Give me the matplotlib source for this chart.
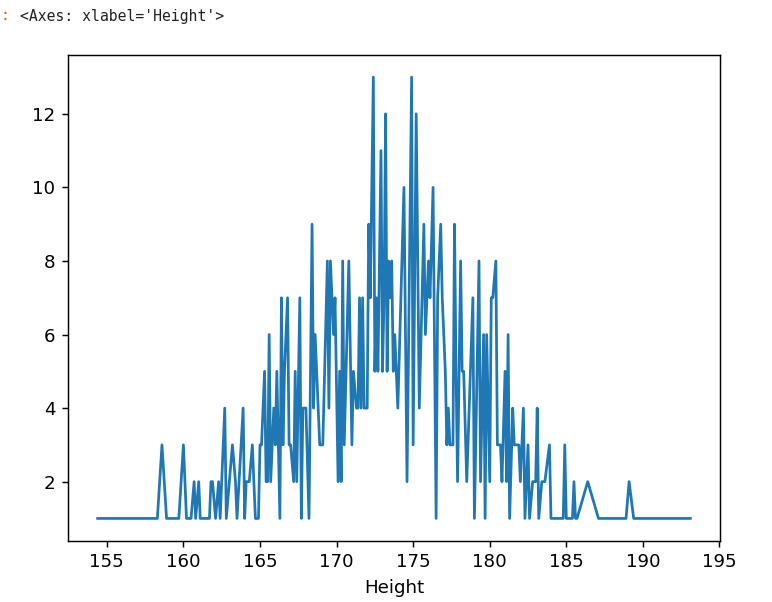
import matplotlib
matplotlib.use("Agg")
import matplotlib.pyplot as plt
import pandas as pd

heights = [154.4, 155.9, 157.3, 158.3, 158.6, 158.9, 159.7, 160.0, 160.2, 160.5,
           160.7, 160.8, 161.0, 161.1, 161.7, 161.8, 161.9, 162.1, 162.3, 162.4,
           162.7, 162.8, 163.2, 163.4, 163.5, 163.9, 164.0, 164.1, 164.3, 164.5,
           164.7, 164.9, 165.0, 165.1, 165.3, 165.4, 165.5, 165.6, 165.7, 165.9,
           166.0, 166.1, 166.3, 166.4, 166.5, 166.6, 166.8, 166.9, 167.0, 167.2,
           167.3, 167.4, 167.6, 167.7, 167.8, 168.0, 168.2, 168.4, 168.5, 168.6,
           168.7, 168.9, 169.1, 169.4, 169.5, 169.6, 169.7, 169.8, 169.9, 170.1,
           170.2, 170.3, 170.4, 170.5, 170.8, 171.0, 171.1, 171.3, 171.4, 171.5,
           171.6, 171.7, 171.8, 172.0, 172.1, 172.2, 172.4, 172.5, 172.6, 172.7,
           172.9, 173.0, 173.1, 173.2, 173.3, 173.4, 173.5, 173.6, 173.7, 173.8,
           174.0, 174.4, 174.6, 174.9, 175.0, 175.2, 175.4, 175.7, 175.8, 175.9,
           176.0, 176.1, 176.3, 176.5, 176.6, 176.7, 176.8, 176.9, 177.0, 177.1,
           177.2, 177.3, 177.4, 177.6, 177.7, 177.8, 177.9, 178.1, 178.2, 178.3,
           178.5, 178.9, 179.0, 179.3, 179.4, 179.6, 179.7, 179.8, 180.0, 180.1,
           180.2, 180.4, 180.5, 180.7, 180.8, 181.0, 181.1, 181.2, 181.3, 181.5,
           181.6, 181.9, 182.0, 182.2, 182.3, 182.5, 182.6, 182.8, 183.0, 183.1,
           183.2, 183.4, 183.6, 183.9, 184.0, 184.8, 184.9, 185.0, 185.4, 185.5,
           185.6, 185.7, 186.4, 187.1, 187.9, 188.9, 189.1, 189.4, 191.2, 193.1]
counts = [1, 1, 1, 1, 3, 1, 1, 3, 1, 1,
          2, 1, 2, 1, 1, 2, 2, 1, 2, 1,
          4, 1, 3, 2, 1, 4, 1, 2, 2, 3,
          1, 1, 3, 3, 5, 2, 2, 6, 2, 4,
          3, 5, 1, 7, 3, 5, 7, 3, 3, 2,
          5, 2, 7, 1, 4, 4, 1, 9, 4, 6,
          5, 3, 3, 8, 4, 8, 7, 6, 7, 2,
          5, 2, 8, 3, 8, 3, 5, 4, 4, 7,
          4, 7, 4, 4, 9, 7, 13, 5, 7, 5,
          11, 5, 7, 12, 5, 8, 7, 8, 5, 6,
          4, 10, 2, 13, 3, 12, 4, 9, 6, 7,
          8, 7, 10, 1, 7, 8, 9, 7, 6, 5,
          3, 4, 3, 3, 9, 5, 2, 8, 5, 5,
          2, 7, 1, 8, 2, 6, 1, 6, 2, 7,
          7, 8, 3, 3, 2, 5, 2, 6, 1, 4,
          3, 3, 2, 4, 1, 3, 1, 2, 2, 4,
          1, 2, 2, 3, 1, 1, 3, 1, 1, 2,
          1, 1, 2, 1, 1, 1, 2, 1, 1, 1]

s = pd.Series(counts, index=pd.Index(heights, name="Height"))

DPI = 131
fig = plt.figure(figsize=(772 / DPI, 602 / DPI), dpi=DPI)
ax = fig.add_axes([68 / 772, 1 - 540.5 / 602, (720 - 68) / 772, (540.5 - 55) / 602])
s.plot(ax=ax)
ax.set_xticks([155, 160, 165, 170, 175, 180, 185, 190, 195])

fig.text(20 / 772, 1 - 16 / 602, "<Axes: xlabel='Height'>", family="DejaVu Sans Mono",
         fontsize=8.1, va="center", ha="left", color="#222222")
fig.text(0, 1 - 16 / 602, ":", fontsize=8.1, va="center", ha="left", color="#e0561b",
         family="DejaVu Sans Mono")

fig.savefig("out.png", dpi=DPI)
